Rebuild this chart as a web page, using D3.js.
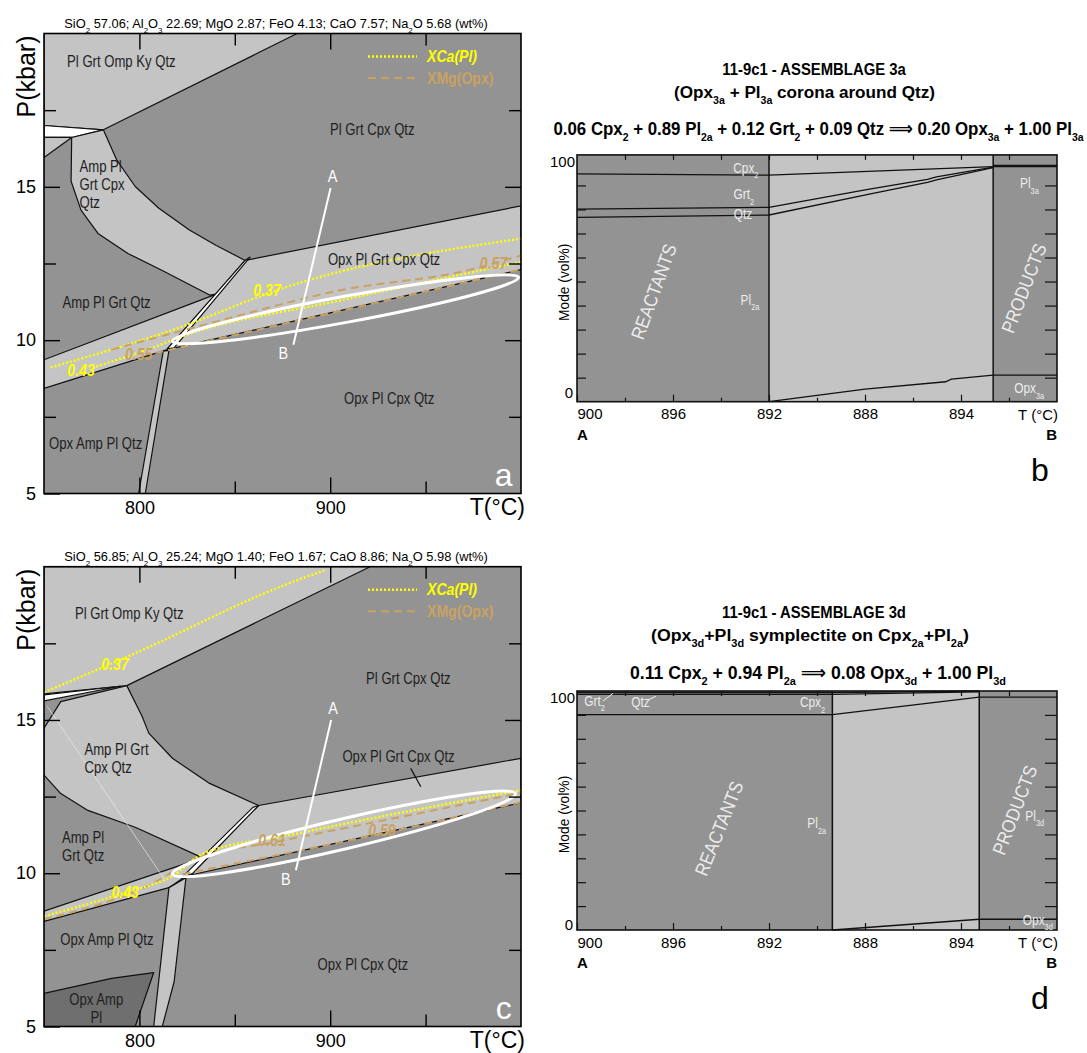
<!DOCTYPE html>
<html>
<head>
<meta charset="utf-8">
<script src="https://cdn.jsdelivr.net/npm/d3@7"></script>
<style>
  body { margin: 0; background: #fff; }
  svg text { font-family: "Liberation Sans", Arial, "DejaVu Sans", sans-serif; }
</style>
</head>
<body>
<svg id="fig" width="1087" height="1053"></svg>
<script>
const LIGHT = '#c4c4c4', DARK = '#939393', DARKER = '#6f6f6f', YEL = '#ffff00', TAN = '#c9a263';
const NARROW = 0.82; // Arial Narrow look from Liberation Sans

// ---------------- panel a : P-T pseudosection (T °C, P kbar) ----------------
const headerA = 'SiO_2 57.06;  Al_2O_3 22.69; MgO 2.87; FeO 4.13; CaO 7.57; Na_2O 5.68 (wt%)';
const ompA = [[750, 20], [882.7, 20], [781.1, 16.86], [750, 17.0]];
const wedgeA = [[750, 17.0], [781.1, 16.86], [764.5, 16.61], [750, 16.61]];
const cornerA = [[750, 16.61], [764.5, 16.61], [750, 15.96]];
const ampBandA = [[764.5, 16.61], [764.2, 15.18], [769.4, 14.24], [778.3, 13.48], [794.2, 12.82], [812, 12.27],
  [836.8, 11.47], [840.3, 11.5], [855.4, 12.6], [840.3, 13.09], [826.2, 13.59], [810.2, 14.3], [797.8, 15.01],
  [788, 15.89], [781.1, 16.86]];
const opxBandA = [[750, 8.43], [814.6, 9.69], [1000, 12.3], [1000, 14.38], [855.4, 12.6], [840.3, 11.5], [750, 9.36]];
const sliverA = [[814.6, 9.72], [855.4, 12.6], [858, 12.71], [818.2, 9.75]];
const veinA = [[799.6, 5], [812.5, 9.64], [815.5, 9.67], [803.1, 5]];
const xca037A = [[753.5, 9.11], [815.5, 10.29], [879.3, 11.78], [1000, 13.31]];
const xca043A = [[777.4, 9.14], [806.7, 9.75], [822.6, 10.13], [904.1, 11.28], [1000, 12.55]];
const xmg057A = [[785.4, 9.69], [833.2, 10.49], [904.1, 11.61], [975, 12.32], [1000, 12.76]];
const xmg055A = [[808.4, 9.58], [1000, 12.3]];
const isoLabelsA = [
  { t: '0.37', T: 866.9, P: 11.61, k: 'xca' }, { t: '0.43', T: 769.4, P: 9.03, k: 'xca' },
  { t: '0.55', T: 799.6, P: 9.53, k: 'xmg' }, { t: '0.57', T: 985.6, P: 12.49, k: 'xmg' }];
const ellipseA = [[817.3, 9.96], [998.8, 12.05]];
const profileA = [[900.2, 14.96], [880.7, 9.85]];
const fieldLabelsA = [
  { t: ['Pl Grt Omp Ky Qtz'], T: 762.1, P: 19.09 },
  { t: ['Pl Grt Cpx Qtz'], T: 899.9, P: 16.88 },
  { t: ['Amp Pl', 'Grt Cpx', 'Qtz'], T: 768.6, P: 15.67 },
  { t: ['Opx Pl Grt Cpx Qtz'], T: 898.8, P: 12.65 },
  { t: ['Amp Pl Grt Qtz'], T: 759.7, P: 11.23 },
  { t: ['Opx Pl Cpx Qtz'], T: 907.2, P: 8.1 },
  { t: ['Opx Amp Pl Qtz'], T: 752.6, P: 6.65 }];

// ---------------- panel c ----------------
const headerC = 'SiO_2 56.85;  Al_2O_3 25.24; MgO 1.40; FeO 1.67; CaO 8.86; Na_2O 5.98 (wt%)';
const ompC = [[750, 20], [920.9, 20], [793.4, 16.12], [750, 15.85]];
const wedgeC = [[750, 15.82], [790, 16.1], [750, 15.62]];
const ampBandC = [[793.4, 16.12], [758.8, 15.6], [750, 14.73], [750, 13.2], [758.8, 12.6], [773, 12.05],
  [797.8, 11.5], [833.2, 10.5], [862.5, 12.21], [836.8, 12.93], [817.3, 13.75], [804.9, 14.57], [801.4, 15.12]];
const opxBandC = [[750, 8.43], [815.5, 9.53], [824.4, 9.91], [1000, 12.3], [1000, 13.75], [862.5, 12.21],
  [833.2, 10.5], [750, 8.76]];
const sliverC = [[822, 9.85], [859.5, 12.15], [862.5, 12.21], [828, 10.0]];
const veinC = [[807.5, 5], [815.5, 9.53], [824.4, 9.85], [818.2, 6.46], [812, 5]];
const opxAmpC = [[750, 5], [750, 6.08], [785.4, 6.57], [807.5, 6.76], [797.8, 5]];
const faintC = [[751.7, 15.44], [813.7, 9.75]];
const leaderC = [[942.2, 13.42], [947.5, 12.82]];
const xca037C = [[750, 15.9], [796.8, 17.15], [878.9, 19.47], [897.9, 19.9]];
const xca043C = [[750, 8.6], [792.5, 9.37], [817.3, 9.91], [833.2, 10.63], [877.5, 11.23], [1000, 12.71]];
const xmg061C = [[750, 8.5], [801.4, 9.5], [833.2, 10.55], [869.5, 11.0], [1000, 12.62]];
const xmg059C = [[822.6, 9.97], [927.1, 11.3], [1000, 12.32]];
const isoLabelsC = [
  { t: '0.37', T: 787.2, P: 16.82, k: 'xca' }, { t: '0.43', T: 792.5, P: 9.37, k: 'xca' },
  { t: '0.61', T: 869.5, P: 11.06, k: 'xmg' }, { t: '0.59', T: 927.1, P: 11.39, k: 'xmg' }];
const ellipseC = [[817.3, 9.97], [997.1, 12.6]];
const profileC = [[900.5, 15.0], [882, 10.1]];
const fieldLabelsC = [
  { t: ['Pl Grt Omp Ky Qtz'], T: 766.2, P: 18.47 },
  { t: ['Pl Grt Cpx Qtz'], T: 918.8, P: 16.34 },
  { t: ['Amp Pl Grt', 'Cpx Qtz'], T: 771.2, P: 14.04 },
  { t: ['Opx Pl Grt Cpx Qtz'], T: 906.4, P: 13.8 },
  { t: ['Amp Pl', 'Grt Qtz'], T: 759.4, P: 11.17 },
  { t: ['Opx Amp Pl Qtz'], T: 758.5, P: 7.83 },
  { t: ['Opx Pl Cpx Qtz'], T: 893.4, P: 7.01 },
  { t: ['Opx Amp', 'Pl'], T: 777.4, P: 5.88, mid: true }];

// ---------------- panels b and d : modes along profile A-B ----------------
const distTicks = [0, 2, 4, 6, 8];
const distLabels = ['900', '896', '892', '888', '894'];

const titleB = ['11-9c1 - ASSEMBLAGE 3a', '(Opx_3a + Pl_3a corona around Qtz)',
  '0.06 Cpx_2 + 0.89 Pl_2a + 0.12 Grt_2 + 0.09 Qtz \u27F9 0.20 Opx_3a + 1.00 Pl_3a'];
const reactEndB = 4, prodStartB = 8.67;
const cpxB = [[0, 94.8], [4, 94.3], [8.67, 97.8]];
const grtB = [[0, 80.1], [4, 80.9], [6.09, 88.5], [7.3, 92.5], [7.49, 93.6], [8.67, 97.6]];
const qtzB = [[0, 76.7], [4, 77.7], [6.09, 86.4], [7.3, 91.3], [7.49, 92.3], [8.67, 97.4]];
const opxB = [[4, 0], [6, 5.2], [7.68, 8.3], [7.8, 9.4], [8.67, 11.1], [10, 11.1]];
const topProdB = [[8.67, 98.1], [10, 98.1]];
const modeLabelsB = [
  { t: 'Cpx_2', u: 3.78, v: 97.2, a: 'end' }, { t: 'Grt_2', u: 3.69, v: 86.3, a: 'end' },
  { t: 'Qtz', u: 3.65, v: 78.2, a: 'end' }, { t: 'Pl_2a', u: 3.8, v: 42.3, a: 'end' },
  { t: 'Pl_3a', u: 9.23, v: 90.8, a: 'start' }, { t: 'Opx_3a', u: 9.42, v: 5.6, a: 'middle' }];
const sideLabelsB = [{ t: 'REACTANTS', u: 1.6, v: 45.8, r: -70 }, { t: 'PRODUCTS', u: 9.31, v: 47.2, r: -69 }];

const titleD = ['11-9c1 - ASSEMBLAGE 3d', '(Opx_3d+Pl_3d symplectite on Cpx_2a+Pl_2a)',
  '0.11 Cpx_2 +  0.94 Pl_2a \u27F9 0.08 Opx_3d +  1.00 Pl_3d'];
const reactEndD = 5.32, prodStartD = 8.38;
const cpxD = [[0, 90.1], [5.32, 90.1], [8.38, 97.4], [10, 97.4]];
const grtD = [[0, 99.4], [5.32, 99.4], [8.38, 100]];
const qtzD = [[0, 98.6], [5.32, 98.6], [8.38, 99.6]];
const opxD = [[5.32, 0], [8.38, 4.5], [10, 4.5]];
const modeLabelsD = [
  { t: 'Grt_2', u: 0.15, v: 95.9, a: 'start' }, { t: 'Qtz', u: 1.13, v: 95.2, a: 'start' },
  { t: 'Cpx_2', u: 5.17, v: 95.2, a: 'end' }, { t: 'Pl_2a', u: 5.19, v: 44.6, a: 'end' },
  { t: 'Pl_3d', u: 9.34, v: 47.7, a: 'start' }, { t: 'Opx_3d', u: 9.6, v: 4.2, a: 'middle' }];
const leadersD = [[[0.54, 95.8], [0.75, 99]], [[1.48, 96.2], [1.65, 97.9]]];
const sideLabelsD = [{ t: 'REACTANTS', u: 2.96, v: 42.5, r: -68 }, { t: 'PRODUCTS', u: 9.12, v: 50.2, r: -69 }];

const svg = d3.select('#fig');

// text with chemical subscripts written as X_2a
function rich(sel, str) {
  str.split(/(_[0-9a-z]+)/).forEach(p => {
    if (!p) return;
    if (p[0] === '_') sel.append('tspan').attr('baseline-shift', 'sub').attr('font-size', '62%').text(p.slice(1));
    else sel.append('tspan').text(p);
  });
  return sel;
}

// text placed at (x,y), squeezed horizontally by sx, optionally rotated
function label(parent, x, y, sx, rot) {
  return parent.append('g')
    .attr('transform', `translate(${x},${y})${rot ? ` rotate(${rot})` : ''} scale(${sx},1)`)
    .append('text').attr('dy', '0.35em');
}

// squeeze a text to a given width
function fit(sel, w) {
  const bw = sel.node().getBBox().width;
  sel.attr('transform', `scale(${w / bw},1)`);
  return sel;
}

function drawPT(c) {
  const x = d3.scaleLinear().domain([750, 1000]).range([44, 521]);
  const y = d3.scaleLinear().domain([5, 20]).range([c.bottom, c.top]);
  const line = d3.line().x(d => x(d[0])).y(d => y(d[1]));
  const g = svg.append('g');

  g.append('clipPath').attr('id', 'clip' + c.id).append('rect')
    .attr('x', x(750)).attr('y', y(20)).attr('width', x(1000) - x(750)).attr('height', y(5) - y(20));
  const plot = g.append('g').attr('clip-path', `url(#clip${c.id})`);
  plot.append('rect').attr('x', x(750)).attr('y', y(20))
    .attr('width', x(1000) - x(750)).attr('height', y(5) - y(20)).attr('fill', DARK);

  c.fields.forEach(f => plot.append('path').attr('d', line(f.pts) + 'Z')
    .attr('fill', f.fill).attr('stroke', '#111').attr('stroke-width', 1.2).attr('stroke-linejoin', 'round'));
  (c.extra || []).forEach(e => plot.append('path').attr('d', line(e.pts)).attr('fill', 'none')
    .attr('stroke', e.color).attr('stroke-width', e.w));

  // isopleths
  c.iso.forEach(s => plot.append('path').attr('d', d3.line().curve(d3.curveMonotoneX)
      .x(d => x(d[0])).y(d => y(d[1]))(s.pts))
    .attr('fill', 'none')
    .attr('stroke', s.k === 'xca' ? YEL : TAN)
    .attr('stroke-width', s.k === 'xca' ? 2.4 : 2)
    .attr('stroke-dasharray', s.k === 'xca' ? '2,2' : '8,5'));

  // measured area (ellipse) from its two tips
  const p1 = [x(c.ellipse[0][0]), y(c.ellipse[0][1])], p2 = [x(c.ellipse[1][0]), y(c.ellipse[1][1])];
  const ang = Math.atan2(p2[1] - p1[1], p2[0] - p1[0]) * 180 / Math.PI;
  plot.append('ellipse')
    .attr('transform', `translate(${(p1[0] + p2[0]) / 2},${(p1[1] + p2[1]) / 2}) rotate(${ang})`)
    .attr('rx', Math.hypot(p2[0] - p1[0], p2[1] - p1[1]) / 2).attr('ry', c.ry)
    .attr('fill', 'none').attr('stroke', '#fff').attr('stroke-width', 3);

  // profile A-B
  plot.append('path').attr('d', line(c.profile)).attr('stroke', '#fff').attr('stroke-width', 2);
  label(plot, x(c.profile[0][0]) + 2, y(c.profile[0][1]) - 12, 0.9).attr('text-anchor', 'middle')
    .attr('fill', '#fff').attr('font-size', 16).text('A');
  label(plot, x(c.profile[1][0]) - 10, y(c.profile[1][1]) + 9, 0.9).attr('text-anchor', 'middle')
    .attr('fill', '#fff').attr('font-size', 16).text('B');

  c.isoLabels.forEach(l => label(plot, x(l.T), y(l.P), 0.88).attr('text-anchor', 'middle')
    .attr('font-size', 16).attr('font-weight', 'bold').attr('font-style', 'italic')
    .attr('fill', l.k === 'xca' ? YEL : TAN).text(l.t));

  c.labels.forEach(l => {
    const t = label(plot, x(l.T), y(l.P), NARROW).attr('text-anchor', l.mid ? 'middle' : 'start')
      .attr('font-size', 16).attr('fill', '#1e1e1e').attr('dy', null);
    l.t.forEach((s, i) => t.append('tspan').attr('x', 0).attr('dy', i === 0 ? '0.35em' : 18).text(s));
  });

  plot.append('text').attr('x', x(990.9)).attr('y', y(5.6)).attr('dy', '0.35em')
    .attr('text-anchor', 'middle').attr('font-size', 32).attr('fill', '#fff').text(c.letter);

  // ticks on all four sides, pointing inward
  const axes = [
    [d3.axisBottom(x).tickValues([800, 900]).tickSize(-16).tickPadding(8).tickFormat(d3.format('d')), `translate(0,${y(5)})`],
    [d3.axisBottom(x).tickValues([850, 950]).tickSize(-12).tickFormat(''), `translate(0,${y(5)})`],
    [d3.axisTop(x).tickValues([800, 900]).tickSize(-16).tickFormat(''), `translate(0,${y(20)})`],
    [d3.axisTop(x).tickValues([850, 950]).tickSize(-12).tickFormat(''), `translate(0,${y(20)})`],
    [d3.axisLeft(y).tickValues([5, 10, 15]).tickSize(-16).tickPadding(8).tickFormat(d3.format('d')), `translate(${x(750)},0)`],
    [d3.axisLeft(y).tickValues([7.5, 12.5, 17.5]).tickSize(-12).tickFormat(''), `translate(${x(750)},0)`],
    [d3.axisRight(y).tickValues([10, 15]).tickSize(-16).tickFormat(''), `translate(${x(1000)},0)`],
    [d3.axisRight(y).tickValues([7.5, 12.5, 17.5]).tickSize(-12).tickFormat(''), `translate(${x(1000)},0)`]];
  axes.forEach(([ax, tr]) => {
    const a = g.append('g').attr('transform', tr).call(ax);
    a.select('.domain').remove();
    a.selectAll('.tick line').attr('stroke', '#000').attr('stroke-width', 1.4);
    a.selectAll('text').attr('font-family', null).attr('font-size', 18).attr('fill', '#000');
  });
  g.append('rect').attr('x', x(750)).attr('y', y(20)).attr('width', x(1000) - x(750)).attr('height', y(5) - y(20))
    .attr('fill', 'none').attr('stroke', '#000').attr('stroke-width', 1.6);

  g.append('text').attr('text-anchor', 'end').attr('x', 525).attr('y', y(5) + 13)
    .attr('dy', '0.35em').attr('font-size', 23).text('T(°C)');
  g.append('text').attr('text-anchor', 'middle')
    .attr('transform', `translate(26,${y(20) + 43}) rotate(-90)`).attr('dy', '0.35em').attr('font-size', 25).text('P(kbar)');
  fit(rich(label(g, 276, y(20) - 10.5, 1).attr('text-anchor', 'middle').attr('font-size', 13), c.header), 424);

  // legend
  const lg = g.append('g');
  lg.append('line').attr('x1', 368).attr('x2', 417).attr('y1', y(20) + 23).attr('y2', y(20) + 23)
    .attr('stroke', YEL).attr('stroke-width', 2.4).attr('stroke-dasharray', '2,2');
  lg.append('line').attr('x1', 368).attr('x2', 417).attr('y1', y(20) + 44.5).attr('y2', y(20) + 44.5)
    .attr('stroke', TAN).attr('stroke-width', 2).attr('stroke-dasharray', '8,5');
  label(lg, 427, y(20) + 23, 0.88).attr('font-size', 16)
    .attr('font-weight', 'bold').attr('font-style', 'italic').attr('fill', YEL).text('XCa(Pl)');
  label(lg, 427, y(20) + 44.5, 0.88).attr('font-size', 16)
    .attr('font-weight', 'bold').attr('fill', TAN).text('XMg(Opx)');
}

function drawMode(c) {
  const x = d3.scaleLinear().domain([0, 10]).range([577, 1057]);
  const y = d3.scaleLinear().domain([0, 100]).range([c.bottom, c.top]);
  const line = d3.line().x(d => x(d[0])).y(d => y(d[1]));
  const g = svg.append('g');
  const yTop = y(c.yMax);

  const fs = [17, 17, 19];
  c.title.forEach((s, i) => fit(rich(label(g, c.tx[i], c.ty[i], 1).attr('text-anchor', 'middle')
    .attr('font-weight', 'bold').attr('font-size', fs[i]), s), c.tw[i]));

  const bands = [[0, c.reactEnd, DARK], [c.reactEnd, c.prodStart, LIGHT], [c.prodStart, 10, DARK]];
  g.selectAll('rect.band').data(bands).join('rect').attr('class', 'band')
    .attr('x', d => x(d[0])).attr('width', d => x(d[1]) - x(d[0]))
    .attr('y', yTop).attr('height', y(0) - yTop).attr('fill', d => d[2]);

  c.lines.forEach(l => g.append('path').attr('d', line(l.pts)).attr('fill', 'none')
    .attr('stroke', '#111').attr('stroke-width', l.w || 1.3));
  [c.reactEnd, c.prodStart].forEach(v => g.append('line').attr('x1', x(v)).attr('x2', x(v))
    .attr('y1', yTop).attr('y2', y(0)).attr('stroke', '#111').attr('stroke-width', 1.5));

  const odd = [1, 3, 5, 7, 9], inner = d3.range(10, 100, 10);
  const axes = [
    [d3.axisBottom(x).tickValues(distTicks).tickSize(-7).tickPadding(7).tickFormat((d, i) => distLabels[i]), `translate(0,${y(0)})`],
    [d3.axisBottom(x).tickValues(odd).tickSize(-4).tickFormat(''), `translate(0,${y(0)})`],
    [d3.axisTop(x).tickValues(d3.range(1, 10)).tickSize(-5).tickFormat(''), `translate(0,${yTop})`],
    [d3.axisLeft(y).tickValues(inner).tickSize(-9).tickFormat(''), `translate(${x(0)},0)`],
    [d3.axisRight(y).tickValues(inner).tickSize(-12).tickFormat(''), `translate(${x(10)},0)`]];
  axes.forEach(([ax, tr], k) => {
    const a = g.append('g').attr('transform', tr).call(ax);
    a.select('.domain').remove();
    a.selectAll('.tick line').attr('stroke', '#111').attr('stroke-width', 1.2);
    a.selectAll('text').attr('font-family', null).attr('font-size', 15).attr('fill', '#000');
    if (k === 0) a.select('.tick text').attr('text-anchor', 'start');
  });
  g.append('rect').attr('x', x(0)).attr('y', yTop).attr('width', x(10) - x(0)).attr('height', y(0) - yTop)
    .attr('fill', 'none').attr('stroke', '#111').attr('stroke-width', 1.6);

  g.append('text').attr('x', x(0) - 2).attr('y', yTop + 7).attr('dy', '0.35em')
    .attr('text-anchor', 'end').attr('font-size', 15).text('100');
  g.append('text').attr('x', x(0) - 4).attr('y', y(0) - c.dy0).attr('dy', '0.35em')
    .attr('text-anchor', 'end').attr('font-size', 15).text('0');
  g.append('text').attr('text-anchor', 'end').attr('x', x(10) + 1).attr('y', y(0) + 13)
    .attr('dy', '0.35em').attr('font-size', 15).text('T (°C)');
  g.append('text').attr('font-weight', 'bold').attr('x', x(0)).attr('y', y(0) + 33)
    .attr('dy', '0.35em').attr('font-size', 15).text('A');
  g.append('text').attr('font-weight', 'bold').attr('text-anchor', 'end').attr('x', x(10))
    .attr('y', y(0) + 33).attr('dy', '0.35em').attr('font-size', 15).text('B');
  label(g, 564, (y(0) + yTop) / 2 + 4, 0.92, -90).attr('text-anchor', 'middle')
    .attr('font-size', 15).text('Mode (vol%)');
  g.append('text').attr('x', 1040).attr('y', y(0) + 68).attr('dy', '0.35em')
    .attr('text-anchor', 'middle').attr('font-size', 32).text(c.letter);

  c.labels.forEach(l => rich(label(g, x(l.u), y(l.v), 0.85).attr('text-anchor', l.a)
    .attr('font-size', 14).attr('fill', '#ececec'), l.t));
  (c.leaders || []).forEach(l => g.append('path').attr('d', line(l)).attr('stroke', '#f0f0f0').attr('stroke-width', 1));
  c.side.forEach(l => label(g, x(l.u), y(l.v), 0.88, l.r).attr('text-anchor', 'middle')
    .attr('font-size', 19).attr('fill', '#ececec').text(l.t));
}

drawPT({
  id: 'a', top: 33.5, bottom: 493.5, header: headerA, letter: 'a', ry: 13,
  fields: [
    { pts: ompA, fill: LIGHT }, { pts: wedgeA, fill: '#fff' }, { pts: cornerA, fill: LIGHT },
    { pts: ampBandA, fill: LIGHT }, { pts: opxBandA, fill: LIGHT }, { pts: sliverA, fill: '#fff' },
    { pts: veinA, fill: LIGHT }],
  iso: [{ pts: xca037A, k: 'xca' }, { pts: xca043A, k: 'xca' }, { pts: xmg057A, k: 'xmg' }, { pts: xmg055A, k: 'xmg' }],
  isoLabels: isoLabelsA, ellipse: ellipseA, profile: profileA, labels: fieldLabelsA
});

drawPT({
  id: 'c', top: 566.7, bottom: 1026.5, header: headerC, letter: 'c', ry: 15,
  fields: [
    { pts: ompC, fill: LIGHT }, { pts: wedgeC, fill: '#fff' }, { pts: ampBandC, fill: LIGHT },
    { pts: opxBandC, fill: LIGHT }, { pts: sliverC, fill: '#fff' }, { pts: opxAmpC, fill: DARKER },
    { pts: veinC, fill: LIGHT }],
  extra: [{ pts: faintC, color: '#e8e8e8', w: 0.7 }, { pts: leaderC, color: '#111', w: 1.2 }],
  iso: [{ pts: xca037C, k: 'xca' }, { pts: xmg061C, k: 'xmg' }, { pts: xca043C, k: 'xca' }, { pts: xmg059C, k: 'xmg' }],
  isoLabels: isoLabelsC, ellipse: ellipseC, profile: profileC, labels: fieldLabelsC
});

drawMode({
  top: 161.4, bottom: 401.7, yMax: 102.7, title: titleB,
  tx: [814, 804.5, 818.5], ty: [69, 92, 128.5], tw: [184, 261, 531], dy0: 9,
  reactEnd: reactEndB, prodStart: prodStartB, letter: 'b',
  lines: [{ pts: cpxB }, { pts: grtB }, { pts: qtzB }, { pts: opxB }, { pts: topProdB, w: 2.6 }],
  labels: modeLabelsB, side: sideLabelsB
});

drawMode({
  top: 691, bottom: 930, yMax: 100, title: titleD,
  tx: [814, 810, 818], ty: [612, 635, 672], tw: [184, 318, 376], dy0: 5,
  reactEnd: reactEndD, prodStart: prodStartD, letter: 'd',
  lines: [{ pts: cpxD }, { pts: grtD, w: 1.6 }, { pts: qtzD }, { pts: opxD }],
  labels: modeLabelsD, side: sideLabelsD, leaders: leadersD
});
</script>
</body>
</html>
